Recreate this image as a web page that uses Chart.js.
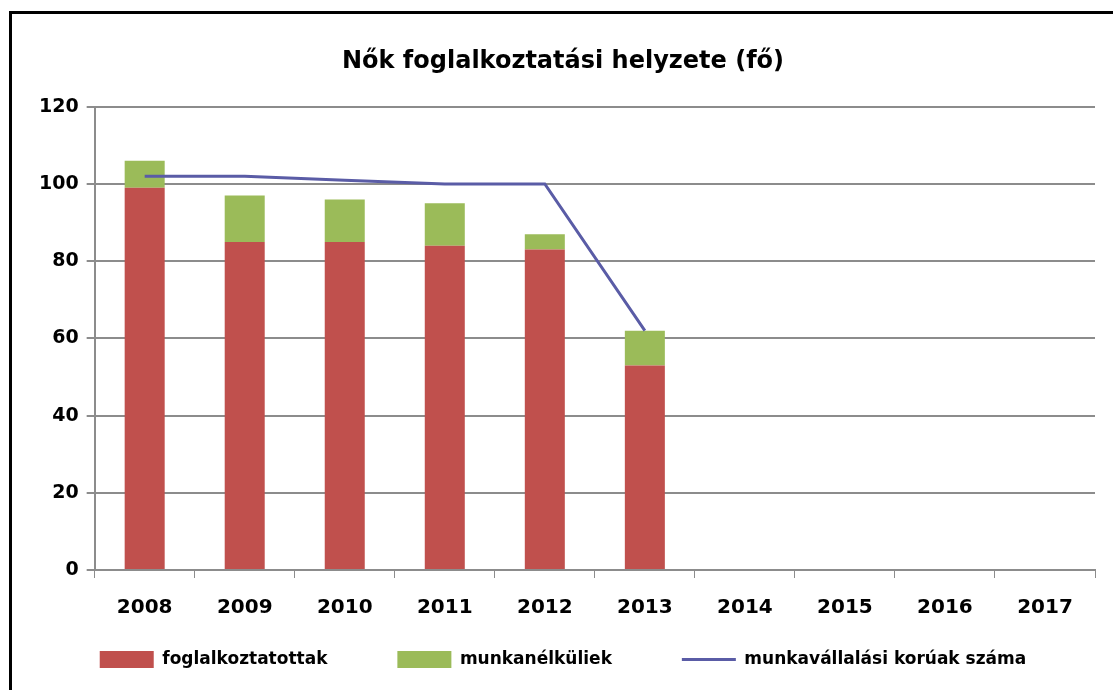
<!DOCTYPE html>
<html>
<head>
<meta charset="utf-8">
<script src="https://cdn.jsdelivr.net/npm/chart.js@4/dist/chart.umd.min.js"></script>
<style>
  html, body { margin: 0; padding: 0; background: #fff; }
  #wrap { position: relative; width: 1113px; height: 690px; overflow: hidden; }
  #frame { position: absolute; left: 9px; top: 11px; width: 1200px; height: 800px;
           border: 3px solid #000; pointer-events: none; }
</style>
</head>
<body>
<div id="wrap">
  <canvas id="chart" width="1113" height="690"></canvas>
  <div id="frame"></div>
</div>
<script>
// adatok
const years = ['2008', '2009', '2010', '2011', '2012', '2013', '2014', '2015', '2016', '2017'];
const foglalkoztatottak = [99, 85, 85, 84, 83, 53, null, null, null, null];
const munkanelkuliek = [7, 12, 11, 11, 4, 9, null, null, null, null];
const munkavallalasiKoruak = [102, 102, 101, 100, 100, 62, null, null, null, null];
const yTicks = [0, 20, 40, 60, 80, 100, 120];

const FONT = "'DejaVu Sans', sans-serif";
const gridColor = '#8c8c8c';

// a jelmagyarázat elemei az adatsorok sorrendjében, nagyobb vízszintes távolsággal
const legendLabels = (chart) => {
    const items = Chart.defaults.plugins.legend.labels.generateLabels(chart);
    items.sort((a, b) => a.datasetIndex - b.datasetIndex);
    items.forEach((item, i) => {
        if (i < items.length - 1) item.text += '\u2003\u2003\u2003 ';
    });
    return items;
};

const ctx = document.getElementById('chart').getContext('2d');
const chart = new Chart(ctx, {
    type: 'bar',
    data: {
        labels: years,
        datasets: [
            {
                label: 'foglalkoztatottak',
                data: foglalkoztatottak,
                backgroundColor: '#c0504d',
                stack: 'bars',
                order: 1,
                pointStyle: 'rect',
                barPercentage: 0.4,
                categoryPercentage: 1.0
            },
            {
                label: 'munkanélküliek',
                data: munkanelkuliek,
                backgroundColor: '#9bbb59',
                stack: 'bars',
                order: 1,
                pointStyle: 'rect',
                barPercentage: 0.4,
                categoryPercentage: 1.0
            },
            {
                type: 'line',
                label: 'munkavállalási korúak száma',
                data: munkavallalasiKoruak,
                borderColor: '#5a5ca6',
                backgroundColor: '#5a5ca6',
                borderWidth: 3,
                pointRadius: 0,
                pointStyle: 'line',
                stack: 'line',
                order: 0,
                tension: 0
            }
        ]
    },
    options: {
        responsive: false,
        animation: false,
        layout: { padding: { left: 31, right: 18, top: 0, bottom: 12 } },
        plugins: {
            title: {
                display: true,
                text: 'Nők foglalkoztatási helyzete (fő)',
                color: '#000',
                font: { family: FONT, size: 24, weight: 'bold' },
                padding: { top: 47, bottom: 31 }
            },
            legend: {
                position: 'bottom',
                labels: {
                    color: '#000',
                    font: { family: FONT, size: 17, weight: 'bold' },
                    usePointStyle: true,
                    pointStyleWidth: 54,
                    boxHeight: 17,
                    padding: 13,
                    generateLabels: legendLabels
                }
            },
            tooltip: { enabled: false }
        },
        scales: {
            x: {
                stacked: true,
                grid: {
                    offset: true,
                    drawOnChartArea: false,
                    color: gridColor,
                    tickLength: 8
                },
                border: { color: gridColor, width: 2 },
                ticks: {
                    color: '#000',
                    font: { family: FONT, size: 20, weight: 'bold' },
                    padding: 18
                }
            },
            y: {
                stacked: true,
                min: 0,
                max: 120,
                afterBuildTicks: (axis) => { axis.ticks = yTicks.map(v => ({ value: v })); },
                grid: {
                    color: gridColor,
                    lineWidth: 2,
                    tickLength: 8
                },
                border: { color: gridColor, width: 2 },
                ticks: {
                    color: '#000',
                    font: { family: FONT, size: 19, weight: 'bold' },
                    padding: 8
                }
            }
        }
    }
});
</script>
</body>
</html>
